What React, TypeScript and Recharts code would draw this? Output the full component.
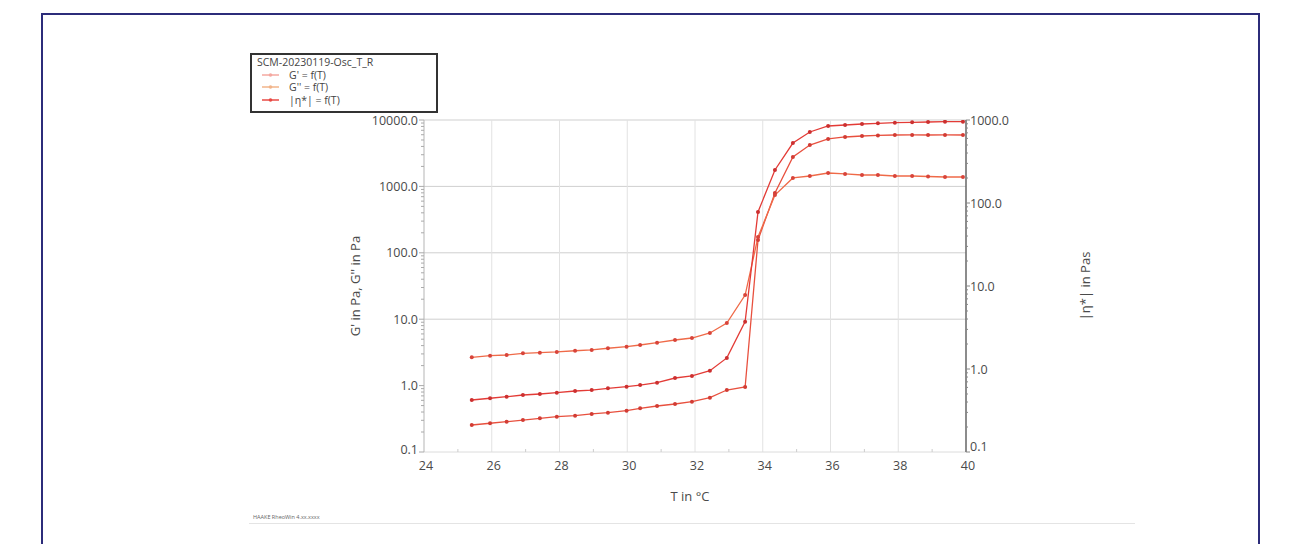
import { LineChart, Line, XAxis, YAxis, CartesianGrid } from "recharts";

// temperature steps of the oscillation sweep, °C
const temps = [
  25.41, 25.95, 26.44, 26.92, 27.42, 27.92, 28.46, 28.95, 29.43, 29.98, 30.38,
  30.88, 31.41, 31.91, 32.44, 32.94, 33.48, 33.86, 34.36, 34.89, 35.39, 35.93,
  36.43, 36.93, 37.4, 37.9, 38.41, 38.88, 39.38, 39.91,
];

// G' in Pa
const gStorage = [
  0.255, 0.271, 0.286, 0.303, 0.322, 0.34, 0.352, 0.374, 0.391, 0.419, 0.455,
  0.493, 0.528, 0.572, 0.657, 0.858, 0.953, 156, 796, 2770, 4200, 5180, 5550,
  5740, 5850, 5940, 5950, 5940, 5950, 5940,
];

// G'' in Pa
const gLoss = [
  2.67, 2.82, 2.89, 3.06, 3.13, 3.21, 3.35, 3.44, 3.65, 3.85, 4.09, 4.43, 4.86,
  5.21, 6.2, 8.77, 23.1, 173, 741, 1340, 1435, 1590, 1540, 1485, 1485, 1435,
  1435, 1410, 1386, 1386,
];

// |eta*| in Pas (right axis)
const etaStar = [
  0.423, 0.444, 0.464, 0.486, 0.5, 0.518, 0.543, 0.558, 0.585, 0.612, 0.641,
  0.684, 0.779, 0.824, 0.954, 1.36, 3.72, 77.9, 250, 528, 717, 847, 871, 895,
  912, 928, 938, 946, 955, 955,
];

const xTicks = [24, 25, 26, 27, 28, 29, 30, 31, 32, 33, 34, 35, 36, 37, 38, 39, 40];
const xGrid = [26, 28, 30, 32, 34, 36, 38];
const leftMajor = [0.1, 1, 10, 100, 1000, 10000];
const rightMajor = [0.1, 1, 10, 100, 1000];
const minorSteps = [2, 3, 4, 5, 6, 7, 8, 9];

const withMinors = (majors: number[]) =>
  majors.flatMap((d, i) =>
    i < majors.length - 1 ? [d, ...minorSteps.map((m) => d * m)] : [d]
  );

const leftTicks = withMinors(leftMajor);
const rightTicks = withMinors(rightMajor);

const rows = temps.map((t, i) => ({
  T: t,
  gs: gStorage[i],
  gl: gLoss[i],
  eta: etaStar[i],
}));

const FONT = "'Open Sans', 'Noto Sans', sans-serif";
const TXT = "#4a4a4a";

function LeftTick(props: any) {
  const { x, y, payload } = props;
  const major = leftMajor.includes(payload.value);
  // bottom label sits a little higher, like the original export
  const dy = payload.value === 0.1 ? -3 : 0;
  return (
    <g>
      <line x1={x} x2={x - (major ? 5 : 3)} y1={y} y2={y} stroke="#aaa" />
      {major && (
        <text
          x={x - 6}
          y={y + dy}
          textAnchor="end"
          dominantBaseline="central"
          fontSize={12.5}
          fontFamily={FONT}
          fill={TXT}
        >
          {payload.value.toFixed(1)}
        </text>
      )}
    </g>
  );
}

function RightTick(props: any) {
  const { x, y, payload } = props;
  const major = rightMajor.includes(payload.value);
  const dy = payload.value === 0.1 ? -6 : 0;
  return (
    <g>
      <line x1={x} x2={x + (major ? 4 : 2)} y1={y} y2={y} stroke="#888" />
      {major && (
        <text
          x={x + 4}
          y={y + dy}
          textAnchor="start"
          dominantBaseline="central"
          fontSize={12.5}
          fontFamily={FONT}
          fill={TXT}
        >
          {payload.value.toFixed(1)}
        </text>
      )}
    </g>
  );
}

function BottomTick(props: any) {
  const { x, y, payload } = props;
  const major = payload.value % 2 === 0;
  return (
    <g>
      <line x1={x} x2={x} y1={y} y2={y - (major ? 0 : 3)} stroke="#ccc" />
      {major && (
        <text
          x={x + 2}
          y={y + 13}
          textAnchor="middle"
          dominantBaseline="central"
          fontSize={12.5}
          fontFamily={FONT}
          fill={TXT}
        >
          {payload.value}
        </text>
      )}
    </g>
  );
}

const seriesDot = (fill: string) => ({ r: 2, fill, stroke: "none" });

export default function App() {
  return (
    <div
      style={{
        position: "absolute",
        left: 0,
        top: 0,
        width: 1299,
        height: 544,
        background: "#fff",
        overflow: "hidden",
        fontFamily: FONT,
      }}
    >
      {/* navy frame */}
      <div
        style={{
          position: "absolute",
          left: 41,
          top: 13,
          width: 1215,
          height: 560,
          border: "2px solid #2c2c7a",
        }}
      />

      <div style={{ position: "absolute", left: 0, top: 0 }}>
        <LineChart
          width={1299}
          height={544}
          data={rows}
          margin={{ top: 120, right: 253, left: 344, bottom: 62 }}
        >
          <CartesianGrid
            yAxisId="left"
            vertical={false}
            horizontalValues={[10, 100, 1000, 10000]}
            stroke="#cfcfcf"
          />
          <CartesianGrid
            yAxisId="left"
            horizontal={false}
            verticalValues={xGrid}
            stroke="#e2e2e2"
          />
          <XAxis
            dataKey="T"
            type="number"
            domain={[24, 40]}
            ticks={xTicks}
            interval={0}
            tickSize={0}
            tickMargin={0}
            tickLine={false}
            axisLine={{ stroke: "#dcdcdc" }}
            tick={BottomTick}
            height={30}
          />
          <YAxis
            yAxisId="left"
            scale="log"
            domain={[0.1, 10000]}
            ticks={leftTicks}
            interval={0}
            allowDataOverflow
            tickSize={0}
            tickMargin={0}
            tickLine={false}
            axisLine={{ stroke: "#b5b5b5" }}
            tick={LeftTick}
            width={80}
          />
          <YAxis
            yAxisId="right"
            orientation="right"
            scale="log"
            domain={[0.1, 1000]}
            ticks={rightTicks}
            interval={0}
            allowDataOverflow
            tickSize={0}
            tickMargin={0}
            tickLine={false}
            axisLine={{ stroke: "#666", strokeWidth: 1.5 }}
            tick={RightTick}
            width={80}
          />
          <Line
            yAxisId="left"
            dataKey="gs"
            type="linear"
            stroke="#e8503e"
            strokeWidth={1.3}
            dot={seriesDot("#d23c34")}
            isAnimationActive={false}
          />
          <Line
            yAxisId="left"
            dataKey="gl"
            type="linear"
            stroke="#ef6a48"
            strokeWidth={1.3}
            dot={seriesDot("#d8443a")}
            isAnimationActive={false}
          />
          <Line
            yAxisId="right"
            dataKey="eta"
            type="linear"
            stroke="#e33b36"
            strokeWidth={1.3}
            dot={seriesDot("#cc3030")}
            isAnimationActive={false}
          />
        </LineChart>
      </div>

      {/* axis titles */}
      <div
        style={{
          position: "absolute",
          left: 355,
          top: 286,
          transform: "translate(-50%, -50%) rotate(-90deg)",
          whiteSpace: "nowrap",
          fontSize: 13,
          color: TXT,
        }}
      >
        G' in Pa, G'' in Pa
      </div>
      <div
        style={{
          position: "absolute",
          left: 1085,
          top: 286,
          transform: "translate(-50%, -50%) rotate(-90deg)",
          whiteSpace: "nowrap",
          fontSize: 13,
          color: TXT,
        }}
      >
        |η*| in Pas
      </div>
      <div
        style={{
          position: "absolute",
          left: 690,
          top: 496,
          transform: "translate(-50%, -50%)",
          whiteSpace: "nowrap",
          fontSize: 13,
          color: TXT,
        }}
      >
        T in °C
      </div>

      {/* legend box */}
      <div
        style={{
          position: "absolute",
          left: 250,
          top: 53,
          width: 179,
          height: 55,
          border: "2px solid #333",
          background: "#fff",
          fontSize: 10.5,
          color: "#444",
          lineHeight: "12.5px",
          padding: "1px 0 0 5px",
          boxSizing: "content-box",
        }}
      >
        <div>SCM-20230119-Osc_T_R</div>
        {[
          { label: "G' = f(T)", color: "#f4a8a0" },
          { label: "G'' = f(T)", color: "#f2b48a" },
          { label: "|η*| = f(T)", color: "#e84a44" },
        ].map((it) => (
          <div key={it.label} style={{ display: "flex", alignItems: "center" }}>
            <svg width={24} height={10} style={{ marginLeft: 4 }}>
              <line x1={1} x2={18} y1={5} y2={5} stroke={it.color} strokeWidth={1.5} />
              <circle cx={9.5} cy={5} r={1.8} fill={it.color} />
            </svg>
            <span style={{ marginLeft: 4 }}>{it.label}</span>
          </div>
        ))}
      </div>

      {/* footer */}
      <div
        style={{
          position: "absolute",
          left: 253,
          top: 513,
          fontSize: 5.5,
          color: "#666",
          whiteSpace: "nowrap",
        }}
      >
        HAAKE RheoWin 4.xx.xxxx
      </div>
      <div
        style={{
          position: "absolute",
          left: 249,
          top: 523,
          width: 886,
          height: 1,
          background: "#e4e4e4",
        }}
      />
    </div>
  );
}
